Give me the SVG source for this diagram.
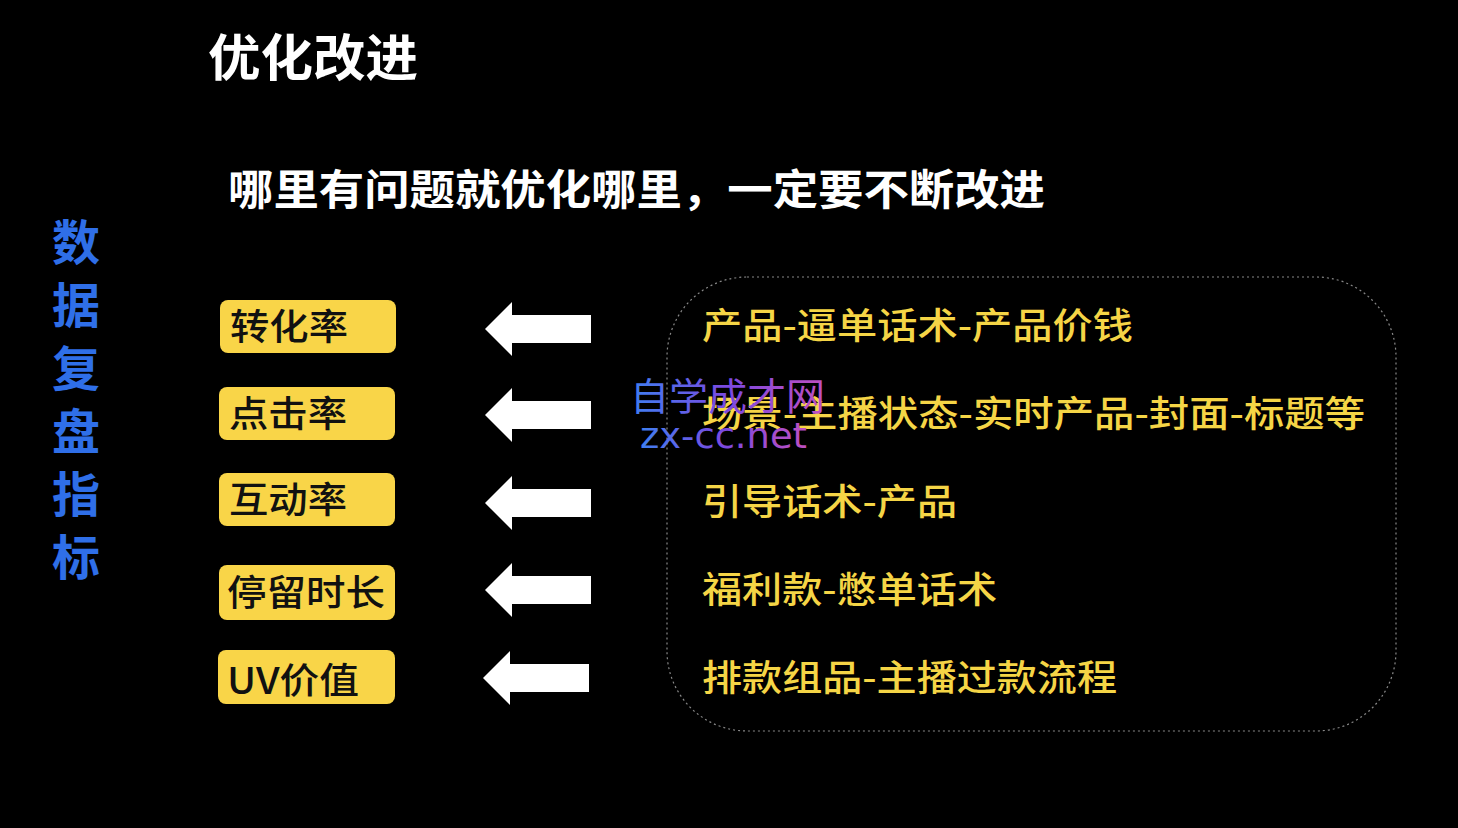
<svg xmlns="http://www.w3.org/2000/svg" width="1458" height="828" viewBox="0 0 1458 828">
<style>
text{font-family:"Noto Sans CJK SC","Noto Sans",sans-serif;font-weight:700}
.box{fill:#f9d548;}
.lbl{fill:#111;font-size:36px;font-weight:500}
.item{fill:#f5d546;font-size:36px;font-weight:500}
.arr{fill:#fff}
</style>
<defs>
<linearGradient id="wm" x1="0" x2="1" y1="0" y2="0"><stop offset="0" stop-color="#3f7ff0"/><stop offset="0.5" stop-color="#7b49e0"/><stop offset="1" stop-color="#c050c0"/></linearGradient>
<polygon id="a" points="0,0 27,-27 27,-14 106,-14 106,14 27,14 27,27"/>
</defs>
<rect width="1458" height="828" fill="#000"/>
<text x="208" y="76" fill="#fff" font-size="50" textLength="210" lengthAdjust="spacingAndGlyphs">优化改进</text>
<text x="228" y="205" fill="#fff" font-size="42" textLength="817" lengthAdjust="spacingAndGlyphs">哪里有问题就优化哪里，一定要不断改进</text>
<text fill="#2f6fe8" font-size="48" x="52">
<tspan x="52" y="260">数</tspan><tspan x="52" y="323">据</tspan><tspan x="52" y="386">复</tspan><tspan x="52" y="449">盘</tspan><tspan x="52" y="512">指</tspan><tspan x="52" y="575">标</tspan>
</text>
<g id="n1"><rect class="box" x="220" y="300" width="176" height="53" rx="8"/><text class="lbl" x="230" y="340" textLength="118" lengthAdjust="spacingAndGlyphs">转化率</text></g>
<g id="n2"><rect class="box" x="219" y="387" width="176" height="53" rx="8"/><text class="lbl" x="229" y="427" textLength="118" lengthAdjust="spacingAndGlyphs">点击率</text></g>
<g id="n3"><rect class="box" x="219" y="473" width="176" height="53" rx="8"/><text class="lbl" x="229" y="513" textLength="118" lengthAdjust="spacingAndGlyphs">互动率</text></g>
<g id="n4"><rect class="box" x="219" y="565" width="176" height="55" rx="8"/><text class="lbl" x="227" y="606" textLength="158" lengthAdjust="spacingAndGlyphs">停留时长</text></g>
<g id="n5"><rect class="box" x="218" y="650" width="177" height="54" rx="8"/><text class="lbl" x="227" y="694" textLength="132" lengthAdjust="spacingAndGlyphs">UV价值</text></g>
<g id="connectors">
<use href="#a" class="arr" x="485" y="329"/>
<use href="#a" class="arr" x="485" y="415"/>
<use href="#a" class="arr" x="485" y="503"/>
<use href="#a" class="arr" x="485" y="590"/>
<use href="#a" class="arr" x="483" y="678"/>
</g>
<g id="panel">
<rect x="667" y="277" width="729" height="454" rx="80" fill="none" stroke="#888" stroke-width="1.2" stroke-dasharray="2 3"/>
<text class="item" x="702" y="339" textLength="431" lengthAdjust="spacingAndGlyphs">产品-逼单话术-产品价钱</text>
<text class="item" x="702" y="427" textLength="663" lengthAdjust="spacingAndGlyphs">场景-主播状态-实时产品-封面-标题等</text>
<text class="item" x="702" y="515" textLength="255" lengthAdjust="spacingAndGlyphs">引导话术-产品</text>
<text class="item" x="702" y="603" textLength="295" lengthAdjust="spacingAndGlyphs">福利款-憋单话术</text>
<text class="item" x="702" y="691" textLength="415" lengthAdjust="spacingAndGlyphs">排款组品-主播过款流程</text>
</g>
<g id="watermark" fill="url(#wm)">
<text x="630" y="410" font-size="38" style="font-weight:400" textLength="195" lengthAdjust="spacingAndGlyphs">自学成才网</text>
<text x="640" y="448" font-size="36" style="font-weight:400;font-family:'DejaVu Sans',sans-serif" textLength="167" lengthAdjust="spacingAndGlyphs">zx-cc.net</text>
</g>
</svg>
